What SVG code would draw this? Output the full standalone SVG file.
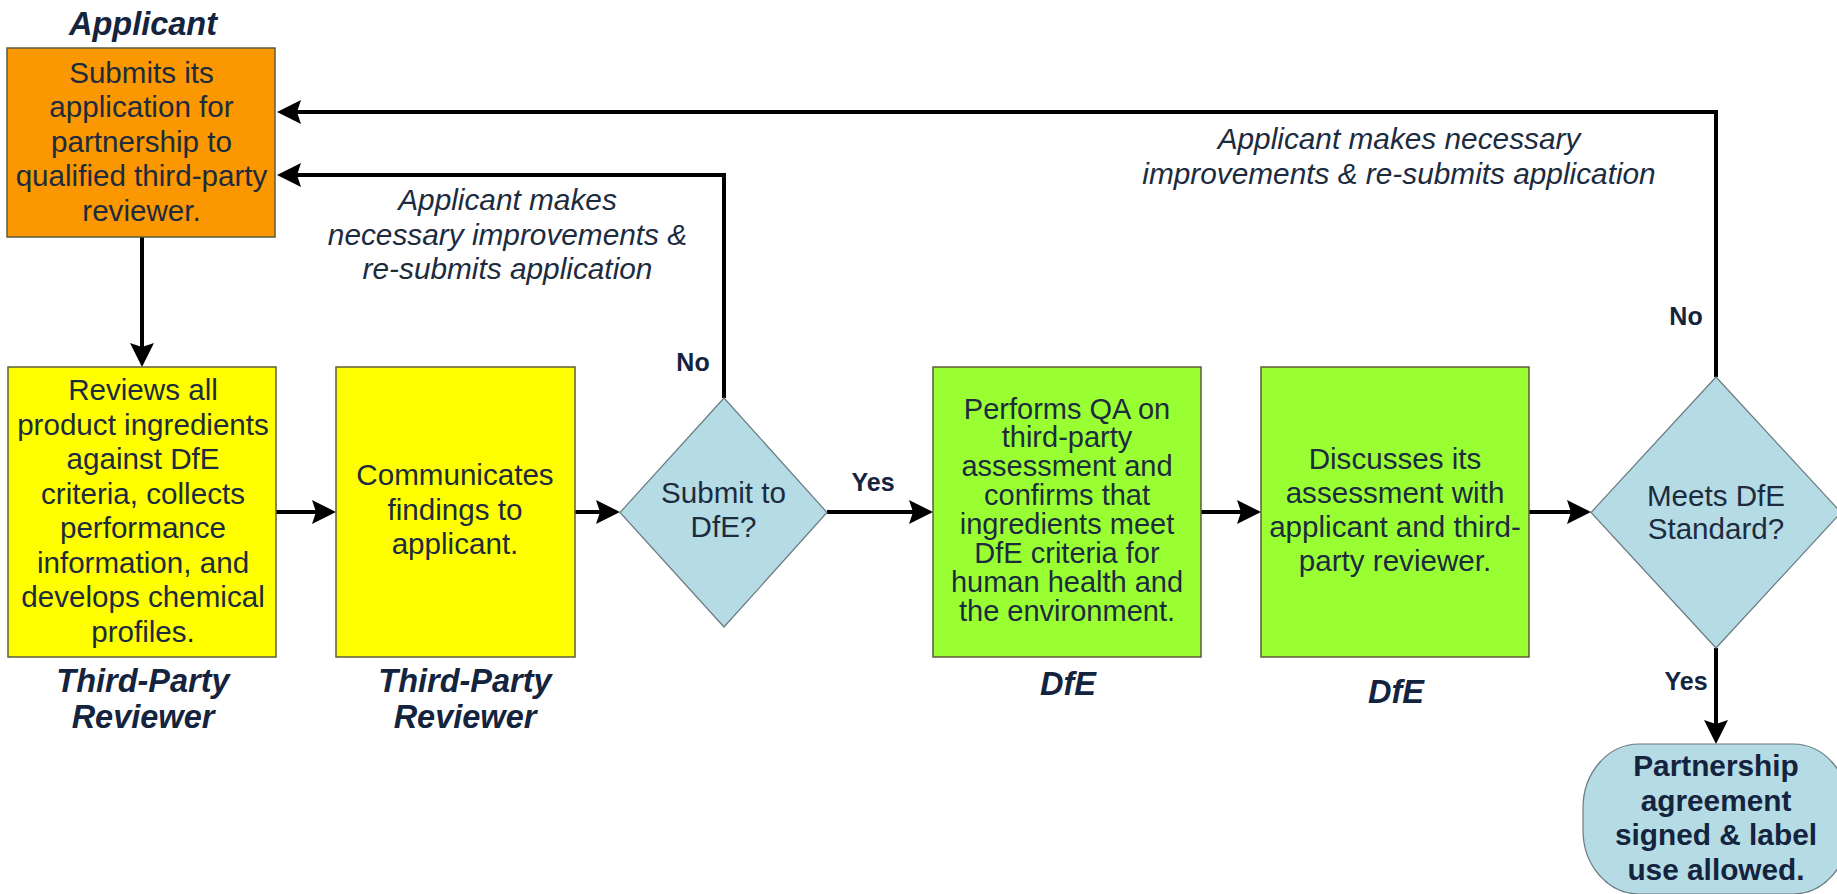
<svg xmlns="http://www.w3.org/2000/svg" width="1837" height="894" viewBox="0 0 1837 894">
<defs>
<style>
.box{stroke:#5c5c3a;stroke-width:1.5}
.orange{fill:#fb9700}
.yellow{fill:#ffff00}
.green{fill:#99ff33}
.dia{fill:#b5dbe5;stroke:#6a7a80;stroke-width:1.2}
.t{font-family:"Liberation Sans",Arial,sans-serif;font-size:29.6px;fill:#1c2b3e;text-anchor:middle}
.tg{font-family:"Liberation Sans",Arial,sans-serif;font-size:29px;fill:#1c2b3e;text-anchor:middle}
.lab{font-family:"Liberation Sans",Arial,sans-serif;font-size:32.5px;font-weight:bold;font-style:italic;fill:#14233e;text-anchor:middle}
.note{font-family:"Liberation Sans",Arial,sans-serif;font-size:29.8px;font-style:italic;fill:#1c2b3e;text-anchor:middle}
.yn{font-family:"Liberation Sans",Arial,sans-serif;font-size:25px;font-weight:bold;fill:#14233e;text-anchor:middle}
.term{font-family:"Liberation Sans",Arial,sans-serif;font-size:29.8px;font-weight:bold;fill:#14233e;text-anchor:middle}
.conn{fill:none;stroke:#000;stroke-width:4;marker-end:url(#ah)}
</style>
<marker id="ah" markerUnits="userSpaceOnUse" markerWidth="24" markerHeight="24" refX="14" refY="12" orient="auto">
<path d="M0,0 L24,12 L0,24 L4,12 z" fill="#000"/>
</marker>
</defs>
<rect width="1837" height="894" fill="#fff"/>

<g id="connectors">
<path class="conn" d="M142,237 V357"/>
<path class="conn" d="M276,512 H326"/>
<path class="conn" d="M575,512 H610"/>
<path class="conn" d="M827,512 H923"/>
<path class="conn" d="M1201,512 H1251"/>
<path class="conn" d="M1529,512 H1581"/>
<path class="conn" d="M724,398 V175 H287"/>
<path class="conn" d="M1716,377 V112 H287"/>
<path class="conn" d="M1716,648 V734"/>
<text class="note" x="507.5" y="210">Applicant makes</text>
<text class="note" x="507.5" y="245">necessary improvements &amp;</text>
<text class="note" x="507.5" y="279">re-submits application</text>
<text class="note" x="1399" y="149">Applicant makes necessary</text>
<text class="note" x="1399" y="184">improvements &amp; re-submits application</text>
<text class="yn" x="693" y="371">No</text>
<text class="yn" x="873" y="491">Yes</text>
<text class="yn" x="1686" y="325">No</text>
<text class="yn" x="1686" y="690">Yes</text>
</g>

<g id="applicant">
<text class="lab" x="143" y="35">Applicant</text>
<rect class="box orange" x="7" y="48" width="268" height="189"/>
<text class="t" x="141.5" y="82.5">Submits its</text>
<text class="t" x="141.5" y="117">application for</text>
<text class="t" x="141.5" y="151.5">partnership to</text>
<text class="t" x="141.5" y="186">qualified third-party</text>
<text class="t" x="141.5" y="220.5">reviewer.</text>
</g>

<g id="review">
<rect class="box yellow" x="8" y="367" width="268" height="290"/>
<text class="t" x="143" y="400">Reviews all</text>
<text class="t" x="143" y="434.5">product ingredients</text>
<text class="t" x="143" y="469">against DfE</text>
<text class="t" x="143" y="503.5">criteria, collects</text>
<text class="t" x="143" y="538">performance</text>
<text class="t" x="143" y="572.5">information, and</text>
<text class="t" x="143" y="607">develops chemical</text>
<text class="t" x="143" y="641.5">profiles.</text>
<text class="lab" x="143" y="692">Third-Party</text>
<text class="lab" x="143" y="728">Reviewer</text>
</g>

<g id="communicate">
<rect class="box yellow" x="336" y="367" width="239" height="290"/>
<text class="t" x="455" y="485">Communicates</text>
<text class="t" x="455" y="519.5">findings to</text>
<text class="t" x="455" y="554">applicant.</text>
<text class="lab" x="465" y="692">Third-Party</text>
<text class="lab" x="465" y="728">Reviewer</text>
</g>

<g id="submit">
<polygon class="dia" points="724,398 827,512.5 724,627 620,512.5"/>
<text class="t" x="723.5" y="502.5">Submit to</text>
<text class="t" x="723.5" y="537">DfE?</text>
</g>

<g id="qa">
<rect class="box green" x="933" y="367" width="268" height="290"/>
<text class="tg" x="1067" y="418.5">Performs QA on</text>
<text class="tg" x="1067" y="447.4">third-party</text>
<text class="tg" x="1067" y="476.3">assessment and</text>
<text class="tg" x="1067" y="505.2">confirms that</text>
<text class="tg" x="1067" y="534.1">ingredients meet</text>
<text class="tg" x="1067" y="563">DfE criteria for</text>
<text class="tg" x="1067" y="591.9">human health and</text>
<text class="tg" x="1067" y="620.8">the environment.</text>
<text class="lab" x="1068" y="695">DfE</text>
</g>

<g id="discuss">
<rect class="box green" x="1261" y="367" width="268" height="290"/>
<text class="t" x="1395" y="468.5">Discusses its</text>
<text class="t" x="1395" y="503">assessment with</text>
<text class="t" x="1395" y="537">applicant and third-</text>
<text class="t" x="1395" y="571">party reviewer.</text>
<text class="lab" x="1396" y="703">DfE</text>
</g>

<g id="meets">
<polygon class="dia" points="1716,377 1841,512.5 1716,648 1591,512.5"/>
<text class="t" x="1716" y="506">Meets DfE</text>
<text class="t" x="1716" y="539">Standard?</text>
</g>

<g id="partnership">
<rect class="dia" x="1583" y="744" width="266" height="150" rx="56" ry="64"/>
<text class="term" x="1716" y="776">Partnership</text>
<text class="term" x="1716" y="810.5">agreement</text>
<text class="term" x="1716" y="845">signed &amp; label</text>
<text class="term" x="1716" y="879.5">use allowed.</text>
</g>
</svg>
